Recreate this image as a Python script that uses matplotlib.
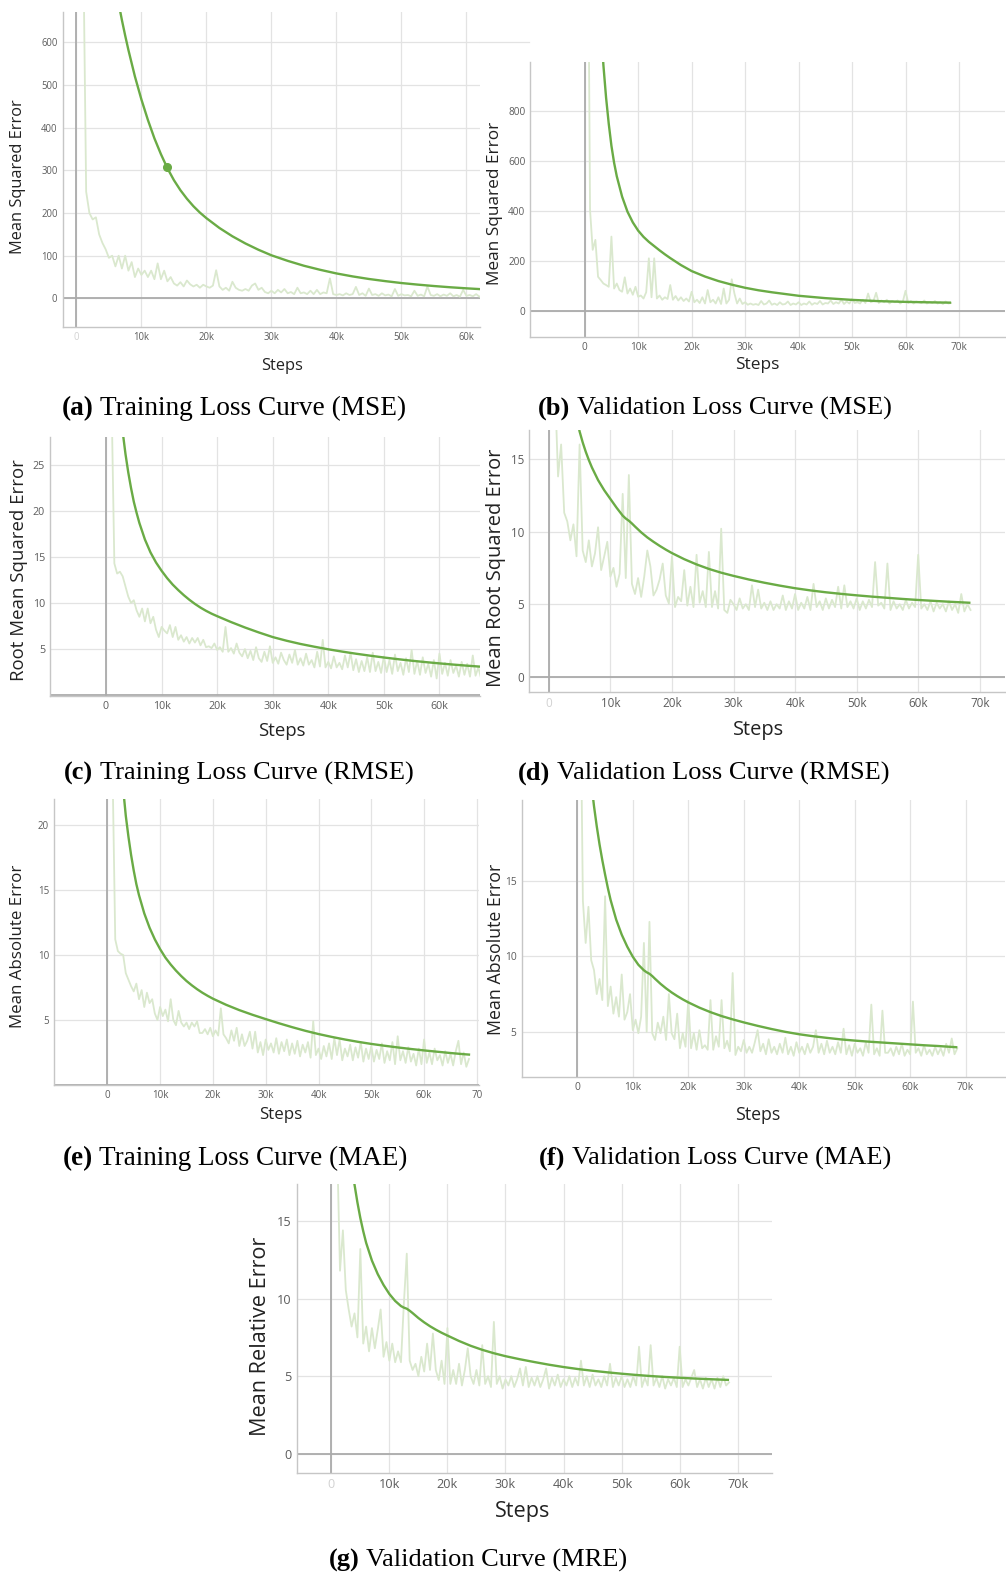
import numpy as np
import matplotlib
matplotlib.use("Agg")
import matplotlib.pyplot as plt

W, H = 1006, 1573

SMOOTH_GREEN = "#6aab45"
RAW_GREEN = "#dae8ce"
GRID = "#e3e3e3"
ZERO = "#ababab"
SPINE = "#c6c6c6"
TICK_TXT = "#5c5c5c"
FADED_TXT = "#d2d2d2"
SANS = "Open Sans"
SERIF = "Liberation Serif"

# raw values are logged every 500 steps, starting at step 500
RAW_FIRST, RAW_EVERY = 500, 500

# ---------------- (a) Training Loss Curve (MSE) ----------------
a_smooth_steps = [6000, 6500, 7000, 7500, 8000, 9000, 10000, 11000, 12000, 13000, 14000, 15000,
                  16000, 17000, 18000, 19000, 20000, 22000, 24000, 26000, 28000, 30000, 32500,
                  35000, 37500, 40000, 42500, 45000, 47500, 50000, 52500, 55000, 57500, 60000,
                  62500, 65000]
a_smooth = [732, 691, 652, 616, 582, 520, 466, 418, 375, 338, 305, 277,
            253.5, 233.5, 216, 201, 188, 165, 145.5, 128.7, 114, 101, 88,
            76.5, 67, 58.5, 51.5, 45.5, 40.5, 36, 32.3, 29, 26.1, 23.6,
            21.4, 19.4]
a_raw = [3000, 900, 250, 200, 185, 190, 150, 130, 115, 95, 100,
         75, 100, 70, 100, 65, 85, 50, 70, 55, 65,
         50, 65, 45, 82, 45, 65, 40, 50, 35, 30,
         38, 28, 42, 33, 28, 32, 25, 32, 28, 25,
         30, 66, 28, 20, 25, 18, 39, 25, 20, 18,
         22, 18, 30, 35, 20, 25, 15, 12, 18, 12,
         20, 14, 22, 12, 15, 10, 25, 12, 14, 10,
         18, 10, 20, 10, 14, 12, 47, 10, 8, 10,
         7, 12, 8, 10, 27, 8, 12, 6, 23, 8,
         10, 6, 12, 7, 9, 5, 22, 6, 10, 7,
         8, 5, 18, 6, 9, 5, 28, 8, 6, 10,
         5, 9, 6, 12, 5, 8, 4, 20, 6, 8,
         5, 10, 4, 8, 5, 12, 6, 8, 5, 9,
         4, 10, 6, 8, 5, 7]
a_hover_step, a_hover_val = 13900, 308

# ---------------- (b) Validation Loss Curve (MSE) ----------------
b_smooth_steps = [3000, 3500, 4000, 4500, 5000, 5500, 6000, 7000, 8000, 9000, 10000, 11000, 12000,
                  13000, 14000, 15000, 16000, 18000, 20000, 22500, 25000, 27500, 30000, 32500,
                  35000, 40000, 45000, 50000, 55000, 60000, 65000, 68300]
b_smooth = [1160, 985, 855, 750, 662, 594, 540, 458, 398, 355, 322, 297, 277,
            260, 243, 227, 212, 184, 160, 138, 120, 105.5, 93, 83,
            75, 61, 51.5, 44.5, 39.5, 36.5, 34.5, 33.5]
b_raw = [2000, 405, 245, 285, 137, 124, 110, 104, 97, 298, 90,
         110, 84, 77, 135, 70, 90, 65, 97, 57, 62,
         50, 75, 211, 55, 211, 50, 62, 45, 55, 48,
         104, 45, 60, 42, 55, 40, 50, 38, 77, 35,
         45, 32, 55, 30, 84, 35, 45, 30, 55, 28,
         90, 30, 45, 127, 70, 30, 50, 28, 35, 25,
         30, 25, 28, 24, 40, 26, 30, 42, 25, 30,
         24, 35, 26, 28, 38, 24, 30, 26, 35, 24,
         30, 26, 38, 25, 32, 28, 40, 26, 32, 30,
         42, 28, 35, 30, 45, 28, 38, 30, 48, 32,
         35, 30, 45, 32, 70, 35, 40, 73, 32, 42,
         35, 45, 30, 40, 35, 42, 30, 38, 81, 32,
         40, 30, 38, 35, 32, 42, 30, 36, 32, 40,
         30, 35, 28, 38, 30, 32]

# ---------------- (c) Training Loss Curve (RMSE) ----------------
c_smooth_steps = [3000, 3500, 4000, 4500, 5000, 5500, 6000, 7000, 8000, 9000, 10000, 11000, 12000,
                  13000, 14000, 15000, 16000, 17000, 18000, 19000, 20000, 22500, 25000, 27500,
                  30000, 32500, 35000, 37500, 40000, 42500, 45000, 47500, 50000, 52500, 55000,
                  57500, 60000, 62500, 65000, 67500, 68500]
c_smooth = [28.6, 26.2, 24.2, 22.5, 21.0, 19.8, 18.7, 16.9, 15.5, 14.4, 13.5, 12.7, 12.0,
            11.4, 10.85, 10.35, 9.9, 9.5, 9.15, 8.84, 8.57, 7.93, 7.34, 6.8,
            6.3, 5.9, 5.55, 5.25, 4.97, 4.72, 4.49, 4.28, 4.08, 3.9, 3.73,
            3.58, 3.44, 3.31, 3.19, 3.08, 3.04]
c_raw = [60, 32, 14.3, 13.2, 13.4, 12.9, 11.8, 10.7, 10.0, 10.3, 9.2,
         8.5, 9.4, 8.0, 9.4, 7.8, 8.5, 7.1, 6.3, 7.4, 7.0,
         6.7, 7.6, 6.3, 7.4, 6.0, 6.5, 5.8, 6.3, 5.6, 6.2,
         5.7, 6.2, 5.4, 6.0, 5.2, 5.3, 5.1, 5.6, 4.9, 5.2,
         4.7, 7.4, 4.7, 5.1, 4.5, 5.6, 4.6, 4.2, 5.0, 4.0,
         4.8, 3.8, 5.2, 4.0, 3.6, 4.7, 3.7, 5.3, 3.5, 4.1,
         3.4, 4.6, 3.8, 3.3, 4.4, 3.5, 4.9, 3.3, 4.0, 3.2,
         4.5, 3.3, 3.8, 3.0, 4.7, 3.1, 6.0, 3.0, 3.6, 2.9,
         4.2, 3.0, 3.5, 2.8, 4.3, 3.0, 4.6, 2.7, 3.9, 2.5,
         3.7, 2.6, 4.1, 2.5, 4.6, 2.6, 3.6, 2.4, 4.2, 2.5,
         3.8, 2.3, 4.4, 2.6, 3.5, 2.2, 4.0, 2.5, 4.9, 2.3,
         3.7, 2.2, 4.1, 2.4, 3.4, 2.0, 3.8, 1.8, 4.5, 2.3,
         3.5, 2.1, 3.8, 2.4, 3.2, 2.0, 3.6, 2.2, 3.4, 2.0,
         4.3, 2.1, 3.0, 1.8, 3.2, 2.2]

# ---------------- (d) Validation Loss Curve (RMSE) ----------------
d_smooth_steps = [4500, 5000, 5500, 6000, 6500, 7000, 8000, 9000, 10000, 11000, 12000, 12500,
                  13000, 13500, 14000, 15000, 16000, 17000, 18000, 19000, 20000, 22000, 24000,
                  26000, 28000, 30000, 32500, 35000, 37500, 40000, 42500, 45000, 47500, 50000,
                  52500, 55000, 57500, 60000, 62500, 65000, 68300]
d_smooth = [17.9, 16.9, 16.15, 15.5, 14.93, 14.42, 13.55, 12.85, 12.25, 11.65, 11.1, 10.9,
            10.75, 10.56, 10.35, 9.95, 9.6, 9.3, 9.02, 8.76, 8.52, 8.1, 7.74,
            7.43, 7.17, 6.95, 6.7, 6.48, 6.28, 6.1, 5.95, 5.82, 5.71, 5.61,
            5.52, 5.44, 5.36, 5.29, 5.23, 5.17, 5.1]
d_raw = [40, 20, 13.8, 16.0, 11.3, 10.7, 9.4, 10.5, 8.3, 16.0, 8.7,
         7.9, 9.4, 7.6, 8.5, 10.3, 7.35, 8.3, 9.3, 6.9, 7.5,
         6.2, 7.1, 12.6, 6.8, 13.9, 6.4, 5.7, 6.8, 5.5, 6.9,
         8.7, 7.6, 5.6, 6.0, 6.7, 7.8, 5.6, 5.05, 8.3, 4.8,
         5.5, 5.2, 7.35, 4.9, 6.2, 4.8, 8.4, 5.1, 5.9, 4.8,
         8.6, 4.8, 5.9, 4.7, 10.2, 4.6, 4.4, 5.3, 5.0, 4.6,
         5.4, 4.7, 5.0, 4.6, 6.3, 4.8, 6.0, 4.7, 5.1, 4.6,
         5.2, 4.6, 5.0, 4.7, 5.6, 4.6, 5.2, 4.7, 5.7, 4.6,
         5.1, 4.7, 5.5, 4.6, 6.4, 4.8, 5.2, 4.6, 5.4, 4.7,
         5.3, 4.8, 6.2, 4.7, 6.3, 4.8, 5.2, 4.7, 5.4, 4.6,
         5.2, 4.7, 5.3, 4.8, 7.9, 4.9, 5.1, 4.7, 7.8, 4.6,
         5.2, 4.7, 5.0, 4.6, 5.3, 4.7, 5.1, 4.8, 8.4, 4.7,
         5.0, 4.6, 5.2, 4.5, 5.1, 4.7, 5.0, 4.5, 5.2, 4.6,
         5.0, 4.4, 5.7, 4.5, 5.0, 4.6]

# ---------------- (e) Training Loss Curve (MAE) ----------------
e_smooth_steps = [3000, 3500, 4000, 4500, 5000, 5500, 6000, 7000, 8000, 9000, 10000, 11000, 12000,
                  13000, 14000, 15000, 16000, 17000, 18000, 19000, 20000, 22500, 25000, 27500,
                  30000, 32500, 35000, 37500, 40000, 42500, 45000, 47500, 50000, 52500, 55000,
                  57500, 60000, 62500, 65000, 67500, 68500]
e_smooth = [22.8, 20.7, 19.1, 17.7, 16.5, 15.45, 14.6, 13.2, 12.1, 11.2, 10.45, 9.8, 9.27,
            8.8, 8.38, 8.0, 7.67, 7.37, 7.1, 6.86, 6.64, 6.17, 5.76, 5.4,
            5.07, 4.75, 4.45, 4.17, 3.92, 3.70, 3.50, 3.32, 3.16, 3.02, 2.89,
            2.77, 2.66, 2.56, 2.46, 2.37, 2.34]
e_raw = [60, 24, 11.2, 10.3, 10.1, 10.0, 8.6, 8.1, 7.6, 7.2, 7.8,
         6.6, 7.3, 6.0, 7.1, 6.3, 6.6, 5.5, 5.0, 6.0, 5.3,
         5.8, 4.9, 6.6, 5.0, 4.6, 5.7, 4.8, 4.5, 4.8, 4.3,
         4.8, 4.5, 4.9, 4.0, 4.0, 4.3, 3.9, 4.4, 3.75, 4.2,
         3.8, 5.9, 3.9, 3.6, 3.2, 4.2, 3.4, 4.4, 3.0, 3.9,
         3.0, 3.4, 4.1, 2.8, 4.1, 2.5, 3.3, 2.3, 3.5, 2.7,
         3.2, 2.5, 3.6, 2.4, 3.3, 2.6, 3.5, 2.3, 3.2, 2.4,
         3.4, 2.2, 3.1, 2.5, 3.3, 2.1, 4.9, 2.3, 2.8, 2.0,
         3.0, 2.2, 3.2, 2.0, 3.6, 2.3, 3.5, 1.9, 2.8, 2.2,
         3.1, 1.9, 2.9, 2.1, 3.3, 1.8, 2.8, 2.0, 3.0, 1.8,
         2.7, 2.0, 3.2, 1.7, 2.6, 1.9, 3.3, 1.6, 3.75, 1.9,
         2.6, 1.7, 2.9, 1.8, 2.4, 1.5, 2.8, 1.6, 3.5, 1.7,
         2.5, 1.6, 2.8, 1.9, 2.3, 1.5, 2.6, 1.7, 2.4, 1.5,
         2.6, 3.4, 1.6, 2.5, 1.4, 2.0]

# ---------------- (f) Validation Loss Curve (MAE) ----------------
f_smooth_steps = [2500, 3000, 3500, 4000, 4500, 5000, 5500, 6000, 7000, 8000, 9000, 10000, 11000,
                  12000, 12500, 13000, 13500, 14000, 15000, 16000, 17000, 18000, 19000, 20000,
                  22000, 24000, 26000, 28000, 30000, 32500, 35000, 37500, 40000, 42500, 45000,
                  47500, 50000, 52500, 55000, 57500, 60000, 62500, 65000, 68300]
f_smooth = [21.6, 20.0, 18.65, 17.45, 16.4, 15.45, 14.55, 13.75, 12.45, 11.45, 10.65, 9.98, 9.45,
            9.08, 8.95, 8.85, 8.7, 8.52, 8.18, 7.88, 7.61, 7.37, 7.15, 6.95,
            6.6, 6.3, 6.04, 5.82, 5.62, 5.39, 5.18, 4.99, 4.83, 4.7, 4.59,
            4.49, 4.41, 4.34, 4.28, 4.22, 4.16, 4.1, 4.05, 3.97]
f_raw = [30, 13.7, 10.9, 13.3, 9.75, 9.1, 7.5, 8.5, 7.1, 14.0, 6.7,
         8.0, 6.2, 7.3, 6.0, 8.8, 5.8, 6.3, 7.5, 5.1, 5.8,
         4.9, 6.0, 10.9, 5.0, 12.3, 4.9, 4.45, 5.6, 4.9, 6.0,
         4.45, 7.5, 4.9, 4.5, 6.2, 3.9, 4.9, 4.0, 7.1, 3.9,
         4.9, 3.8, 5.1, 3.9, 4.1, 3.8, 7.1, 3.8, 4.7, 4.0,
         7.1, 3.9, 4.4, 3.7, 8.9, 3.45, 4.0, 3.7, 4.45, 3.6,
         4.0, 3.6, 4.3, 5.1, 3.7, 4.2, 3.5, 4.5, 3.6, 4.0,
         3.5, 4.2, 3.6, 4.6, 3.5, 4.0, 3.4, 4.3, 3.6, 4.0,
         3.5, 4.2, 3.6, 4.0, 5.1, 3.6, 4.2, 3.5, 4.4, 3.6,
         4.0, 3.5, 4.3, 3.6, 5.2, 3.5, 4.1, 3.4, 4.2, 3.6,
         3.9, 3.4, 4.3, 3.6, 6.8, 3.5, 3.9, 3.4, 6.4, 3.6,
         3.6, 3.9, 3.4, 4.0, 3.5, 4.2, 3.4, 3.8, 3.5, 7.0,
         3.6, 3.9, 3.4, 4.1, 3.5, 3.8, 3.4, 4.0, 3.5, 3.9,
         3.4, 4.2, 3.6, 4.55, 3.5, 3.9]

# ---------------- (g) Validation Curve (MRE) ----------------
g_smooth_steps = [3500, 4000, 4500, 5000, 5500, 6000, 7000, 8000, 9000, 10000, 11000, 12000,
                  12500, 13000, 13500, 14000, 15000, 16000, 17000, 18000, 19000, 20000, 22000,
                  24000, 26000, 28000, 30000, 32500, 35000, 37500, 40000, 42500, 45000, 47500,
                  50000, 52500, 55000, 57500, 60000, 62500, 65000, 68300]
g_smooth = [18.6, 17.35, 16.2, 15.2, 14.35, 13.6, 12.45, 11.58, 10.88, 10.3, 9.85, 9.52,
            9.42, 9.35, 9.22, 9.07, 8.75, 8.47, 8.22, 8.0, 7.8, 7.62, 7.27,
            6.96, 6.7, 6.48, 6.29, 6.09, 5.91, 5.74, 5.59, 5.46, 5.35, 5.25,
            5.16, 5.08, 5.01, 4.95, 4.9, 4.85, 4.81, 4.76]
g_raw = [40, 20, 11.8, 14.4, 10.55, 9.3, 8.2, 9.05, 7.5, 13.2, 7.1,
         8.2, 6.6, 8.1, 6.8, 8.0, 9.3, 6.25, 7.2, 6.0, 7.1,
         5.9, 6.6, 5.9, 9.7, 12.9, 6.0, 5.4, 5.8, 5.0, 6.25,
         5.3, 7.1, 5.4, 7.75, 5.4, 4.75, 6.0, 4.5, 8.1, 4.5,
         5.4, 4.5, 5.8, 4.4, 5.4, 6.8, 5.0, 4.5, 5.4, 4.4,
         7.0, 4.5, 5.0, 4.3, 8.5, 4.5, 5.0, 4.2, 4.8, 4.4,
         5.0, 4.3, 4.8, 5.5, 4.4, 5.6, 4.3, 4.9, 4.4, 5.0,
         4.3, 4.8, 5.5, 4.2, 4.9, 4.4, 5.1, 4.3, 4.8, 4.4,
         5.0, 4.3, 4.9, 4.4, 6.0, 4.4, 5.0, 4.3, 5.1, 4.4,
         4.8, 4.3, 5.0, 4.4, 5.8, 4.3, 4.9, 4.4, 5.0, 4.3,
         4.8, 4.3, 5.0, 4.4, 6.9, 4.3, 4.9, 4.4, 7.0, 4.4,
         4.9, 4.3, 5.0, 4.2, 4.8, 4.4, 4.9, 4.3, 6.9, 4.3,
         4.8, 4.4, 4.9, 5.4, 4.3, 4.8, 4.2, 4.9, 4.3, 4.8,
         4.2, 4.9, 4.3, 5.0, 4.4, 4.6]


fig = plt.figure(figsize=(W / 100, H / 100), dpi=100)
fig.patch.set_facecolor("white")


def step_label(v):
    return "0" if v == 0 else f"{int(v // 1000)}k"


def panel(box, xlim, ylim, xticks, yticks, raw, sm_steps, sm_vals, ylabel, fs,
          ylab_xy, steps_xy, faded_x=(), xtick_text=None):
    left, right, top, bottom = box
    ax = fig.add_axes([left / W, 1 - bottom / H, (right - left) / W, (bottom - top) / H])
    ax.set_xlim(*xlim)
    ax.set_ylim(*ylim)
    for s in ("top", "right"):
        ax.spines[s].set_visible(False)
    for s in ("left", "bottom"):
        ax.spines[s].set_color(SPINE)
        ax.spines[s].set_linewidth(1.0)
    ax.set_xticks(xticks)
    ax.set_yticks(yticks)
    ax.set_xticklabels(xtick_text or [step_label(v) for v in xticks])
    ax.set_yticklabels([str(v) for v in yticks])
    ax.tick_params(length=0, labelsize=fs * 0.58, labelcolor=TICK_TXT, pad=3.6)
    for lab, v in zip(ax.get_xticklabels(), xticks):
        lab.set_fontfamily(SANS)
        if v in faded_x:
            lab.set_color(FADED_TXT)
    for lab in ax.get_yticklabels():
        lab.set_fontfamily(SANS)
    ax.grid(True, color=GRID, linewidth=0.9, zorder=0)
    ax.set_axisbelow(True)
    ax.axvline(0, color=ZERO, linewidth=1.3, zorder=1)
    ax.axhline(0, color=ZERO, linewidth=1.3, zorder=1)

    raw_steps = RAW_FIRST + RAW_EVERY * np.arange(len(raw))
    ax.plot(raw_steps, raw, color=RAW_GREEN, linewidth=1.3, zorder=2)
    ax.plot(sm_steps, sm_vals, color=SMOOTH_GREEN, linewidth=1.7, zorder=3)

    fig.text(ylab_xy[0] / W, 1 - ylab_xy[1] / H, ylabel, rotation=90, ha="center",
             va="center", fontsize=fs, family=SANS, color="#222222")
    fig.text(steps_xy[0] / W, 1 - steps_xy[1] / H, "Steps", ha="center", va="center",
             fontsize=fs, family=SANS, color="#222222")
    return ax


ks = [0, 10000, 20000, 30000, 40000, 50000, 60000]
ks7 = ks + [70000]

ax_a = panel((62.5, 480, 12, 327), (-2140, 62090), (-67, 671), ks, [0, 100, 200, 300, 400, 500, 600],
             a_raw, a_smooth_steps, a_smooth, "Mean Squared Error", 11.8,
             (18.5, 176.7), (281.6, 366), faded_x=(0,))
ax_a.plot([a_hover_step], [a_hover_val], "o", color=SMOOTH_GREEN, markersize=5.5, zorder=4)
# top gridline of panel (a) runs on into the gap at its right
fig.add_artist(plt.Line2D([480 / W, 529 / W], [1 - 42.3 / H, 1 - 42.3 / H], color=GRID, linewidth=0.9))

panel((530.3, 1005, 62, 336.7), (-10170, 78600), (-103, 997.6), ks7, [0, 200, 400, 600, 800],
      b_raw, b_smooth_steps, b_smooth, "Mean Squared Error", 12.4,
      (495, 203.3), (757, 365))

panel((50, 480, 437.3, 695.7), (-10080, 67300), (-0.07, 28.0), ks, [5, 10, 15, 20, 25],
      c_raw, c_smooth_steps, c_smooth, "Root Mean Squared Error", 13.4,
      (19, 569.7), (282, 731))

panel((529.3, 1005, 430, 692.3), (-3170, 74100), (-1.07, 17.0), ks7, [0, 5, 10, 15],
      d_raw, d_smooth_steps, d_smooth, "Mean Root Squared Error", 14.4,
      (496, 568.3), (759, 730), faded_x=(0,))

panel((54, 479, 799, 1085), (-10100, 70400), (0.0, 22.0), ks7, [5, 10, 15, 20],
      e_raw, e_smooth_steps, e_smooth, "Mean Absolute Error", 12.2,
      (18.5, 946.7), (281, 1115), xtick_text=[step_label(v) for v in ks] + ["70"])

panel((521.6, 1005, 800, 1077.3), (-10050, 77100), (1.97, 20.4), ks7, [5, 10, 15],
      f_raw, f_smooth_steps, f_smooth, "Mean Absolute Error", 12.8,
      (496, 949), (758, 1115))

panel((296.8, 772, 1184.3, 1473.3), (-5940, 75900), (-1.26, 17.37), ks7, [0, 5, 10, 15],
      g_raw, g_smooth_steps, g_smooth, "Mean Relative Error", 15.6,
      (260.7, 1336.7), (523, 1512), faded_x=(0,))

# captions: bold tag followed by regular text, centred as one line
renderer = fig.canvas.get_renderer()


def caption(cx, base_y, tag, rest, size=19):
    y = 1 - base_y / H
    t1 = fig.text(0, y, tag, fontweight="bold", family=SERIF, fontsize=size, va="baseline")
    t2 = fig.text(0, y, rest, family=SERIF, fontsize=size, va="baseline")
    w1 = t1.get_window_extent(renderer).width
    w2 = t2.get_window_extent(renderer).width
    gap = size * 100 / 72 * 0.25
    x0 = cx - (w1 + gap + w2) / 2
    t1.set_x(x0 / W)
    t2.set_x((x0 + w1 + gap) / W)


caption(234, 415, "(a)", "Training Loss Curve (MSE)", 19.6)
caption(715, 415, "(b)", "Validation Loss Curve (MSE)")
caption(239, 780, "(c)", "Training Loss Curve (RMSE)")
caption(704, 780, "(d)", "Validation Loss Curve (RMSE)")
caption(235, 1165, "(e)", "Training Loss Curve (MAE)", 19.5)
caption(715, 1165, "(f)", "Validation Loss Curve (MAE)")
caption(478, 1567, "(g)", "Validation Curve (MRE)")

fig.savefig("out.png", dpi=100, facecolor="white")
